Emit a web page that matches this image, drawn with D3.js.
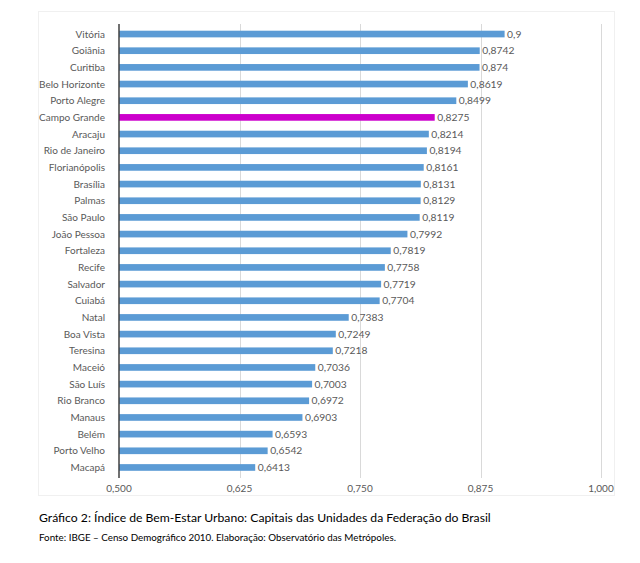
<!DOCTYPE html>
<html><head><meta charset="utf-8">
<script src="https://cdn.jsdelivr.net/npm/d3@7"></script>
<style>body{margin:0;background:#fff}svg{display:block}</style>
</head><body>
<svg id="c" width="640" height="563"></svg>
<script>
const cities = ["Vitória","Goiânia","Curitiba","Belo Horizonte","Porto Alegre","Campo Grande","Aracaju","Rio de Janeiro","Florianópolis","Brasília","Palmas","São Paulo","João Pessoa","Fortaleza","Recife","Salvador","Cuiabá","Natal","Boa Vista","Teresina","Maceió","São Luís","Rio Branco","Manaus","Belém","Porto Velho","Macapá"];
const values = [0.9,0.8742,0.874,0.8619,0.8499,0.8275,0.8214,0.8194,0.8161,0.8131,0.8129,0.8119,0.7992,0.7819,0.7758,0.7719,0.7704,0.7383,0.7249,0.7218,0.7036,0.7003,0.6972,0.6903,0.6593,0.6542,0.6413];
const valueLabels = ["0,9","0,8742","0,874","0,8619","0,8499","0,8275","0,8214","0,8194","0,8161","0,8131","0,8129","0,8119","0,7992","0,7819","0,7758","0,7719","0,7704","0,7383","0,7249","0,7218","0,7036","0,7003","0,6972","0,6903","0,6593","0,6542","0,6413"];
const highlight = "Campo Grande";
const ticks = [0.5,0.625,0.75,0.875,1.0];
const tickLabels = ["0,500","0,625","0,750","0,875","1,000"];
const title = "Gráfico 2: Índice de Bem-Estar Urbano: Capitais das Unidades da Federação do Brasil";
const source = "Fonte: IBGE – Censo Demográfico 2010. Elaboração: Observatório das Metrópoles.";

const svg = d3.select("#c");
const font = "Lato, 'Open Sans', sans-serif";
const x = d3.scaleLinear().domain([0.5,1.0]).range([119,601]);
const y = d3.scaleBand().domain(cities).range([25.7,475.8]).paddingInner(0.6).paddingOuter(0.3);

svg.append("rect").attr("x",38.5).attr("y",11.5).attr("width",576).attr("height",484)
  .attr("fill","#fff").attr("stroke","#f0f0f0");

// grid
svg.append("g").selectAll("line").data(ticks.slice(1)).join("line")
  .attr("x1",d=>Math.round(x(d))+0.5).attr("x2",d=>Math.round(x(d))+0.5)
  .attr("y1",24).attr("y2",478).attr("stroke","#d9d9d9").attr("stroke-width",1);

// bars
svg.append("g").selectAll("rect").data(cities).join("rect")
  .attr("x",x(0.5)).attr("y",(d)=>y(d))
  .attr("width",(d,i)=>x(values[i])-x(0.5)).attr("height",y.bandwidth())
  .attr("fill",d=>d===highlight?"#cc00cc":"#5b9bd5");

// axis line
svg.append("line").attr("x1",x(0.5)).attr("x2",x(0.5)).attr("y1",24).attr("y2",478)
  .attr("stroke","#404040").attr("stroke-width",1.5);

// category labels
svg.append("g").selectAll("text").data(cities).join("text")
  .attr("x",105).attr("y",d=>y(d)+y.bandwidth()/2).attr("dy","0.35em")
  .attr("text-anchor","end").attr("font-family",font).attr("font-size",10)
  .attr("fill","#595959").text(d=>d);

// value labels
svg.append("g").selectAll("text").data(cities).join("text")
  .attr("x",(d,i)=>x(values[i])+2.5).attr("y",d=>y(d)+y.bandwidth()/2).attr("dy","0.35em")
  .attr("font-family",font).attr("font-size",10.3)
  .attr("fill","#595959").text((d,i)=>valueLabels[i]);

// tick labels
svg.append("g").selectAll("text").data(ticks).join("text")
  .attr("x",d=>x(d)).attr("y",488).attr("dy","0.35em").attr("text-anchor","middle")
  .attr("font-family",font).attr("font-size",10).attr("fill","#595959")
  .text((d,i)=>tickLabels[i]);

svg.append("text").attr("x",39).attr("y",522).attr("font-family",font).attr("font-size",12.2)
  .attr("fill","#000").text(title);
svg.append("text").attr("x",39).attr("y",541).attr("font-family",font).attr("font-size",9.8)
  .attr("fill","#000").text(source);
</script>
</body></html>
